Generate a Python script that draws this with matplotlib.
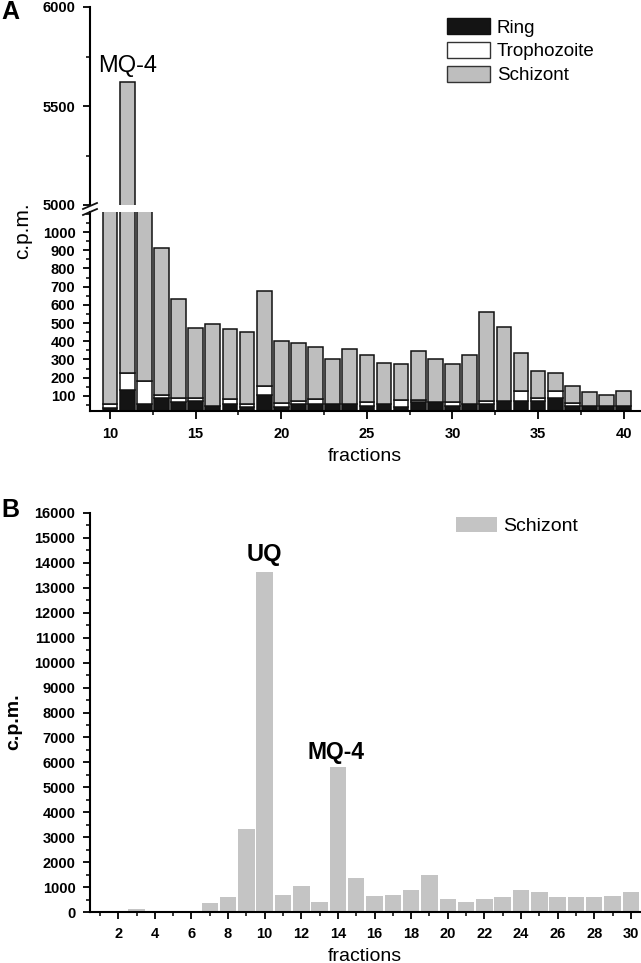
import matplotlib
matplotlib.use('Agg')
import matplotlib.pyplot as plt
from matplotlib.ticker import MultipleLocator, FixedLocator
from matplotlib.patches import Patch
import numpy as np

plt.rcParams['font.family'] = ['Liberation Sans', 'DejaVu Sans']

# panel A: fractions 10-40, stacked by parasite stage (c.p.m.)
fracA = list(range(10, 41))
ring = [35, 131, 54, 86, 64, 73, 45, 54, 38, 107, 38, 53, 53, 54, 54, 45,
        54, 38, 64, 64, 45, 54, 54, 71, 71, 73, 86, 45, 45, 45, 45]
troph = [20, 92, 130, 21, 22, 13, 0, 30, 15, 48, 24, 18, 31, 0, 0, 19,
         0, 37, 12, 0, 19, 0, 17, 0, 58, 13, 43, 17, 0, 0, 0]
totalA = [1500, 5620, 1500, 912, 631, 475, 497, 466, 451, 674, 404, 389, 367,
          300, 360, 323, 283, 276, 345, 305, 276, 323, 559, 477, 336, 237,
          223, 153, 124, 107, 129]
schiz = [t - r - p for t, r, p in zip(totalA, ring, troph)]

# panel B: fractions 1-30, schizont only
fracB = list(range(1, 31))
schizB = [60, 60, 133, 60, 60, 50, 360, 600, 3340, 13650, 694, 1028, 400,
          5800, 1362, 627, 694, 868, 1469, 521, 401, 521, 588, 868, 802,
          588, 588, 588, 627, 802]

W, H = 641, 963
fig = plt.figure(figsize=(W / 100, H / 100), dpi=100)

def box(x0, x1, ytop, ybot):
    return [x0 / W, 1 - ybot / H, (x1 - x0) / W, (ybot - ytop) / H]

axU = fig.add_axes(box(90, 640, 7, 205))
axL = fig.add_axes(box(90, 640, 212, 411))
axB = fig.add_axes(box(90, 640, 513, 912))

ringC = '#141414'
schC = '#bebebe'
for ax in (axU, axL):
    ax.bar(fracA, ring, width=0.86, color=ringC, edgecolor='#111111', linewidth=1.1)
    ax.bar(fracA, troph, width=0.86, bottom=ring, color='white',
           edgecolor='#111111', linewidth=1.1)
    ax.bar(fracA, schiz, width=0.86, bottom=np.add(ring, troph), color=schC,
           edgecolor='#111111', linewidth=1.1)
    ax.set_xlim(8.83, 40.95)
    for s in ['top', 'right']:
        ax.spines[s].set_visible(False)
    ax.spines['left'].set_linewidth(1.5)
    ax.spines['bottom'].set_linewidth(1.5)
    ax.tick_params(which='major', length=5, width=1.3, labelsize=10.5, pad=5.5)
    ax.tick_params(which='minor', length=3, width=1.1)

axU.set_ylim(5000, 6000)
axU.spines['bottom'].set_visible(False)
axU.set_xticks([])
axU.yaxis.set_major_locator(FixedLocator([5000, 5500, 6000]))
axU.yaxis.set_minor_locator(FixedLocator([5250, 5750]))
axU.set_yticklabels(['5000', '5500', '6000'], fontweight='bold')

axL.set_ylim(17, 1110)
axL.yaxis.set_major_locator(FixedLocator(list(range(100, 1001, 100))))
axL.yaxis.set_minor_locator(MultipleLocator(50))
axL.set_yticklabels([str(v) for v in range(100, 1001, 100)], fontweight='bold')
axL.xaxis.set_major_locator(MultipleLocator(5))
axL.xaxis.set_minor_locator(FixedLocator(np.arange(12.5, 40, 5)))
axL.tick_params(axis='x', which='major', length=6)
for lab in axL.get_xticklabels():
    lab.set_fontweight('bold')

# break marks on the left spine
for y in (206, 212):
    fig.add_artist(plt.Line2D([83 / W, 97 / W], [1 - (y + 3) / H, 1 - (y - 3) / H],
                              color='#111111', linewidth=1.3))

axU.text(11, 5645, 'MQ-4', ha='center', va='bottom', fontsize=17)

axU.legend(handles=[Patch(facecolor=ringC, edgecolor='#111111', label='Ring'),
                    Patch(facecolor='white', edgecolor='#333333', label='Trophozoite'),
                    Patch(facecolor=schC, edgecolor='#333333', label='Schizont')],
           loc='upper left', bbox_to_anchor=(447 / W, 1 - 18 / H),
           bbox_transform=fig.transFigure, frameon=False, fontsize=13.5,
           handlelength=2.3, handleheight=0.95, handletextpad=0.35,
           labelspacing=0.28, borderpad=0, borderaxespad=0)

# panel B
axB.bar(fracB, schizB, width=0.9, color='#c4c4c4', label='Schizont')
axB.set_xlim(0.46, 30.5)
axB.set_ylim(0, 16000)
for s in ['top', 'right']:
    axB.spines[s].set_visible(False)
axB.spines['left'].set_linewidth(1.5)
axB.spines['bottom'].set_linewidth(1.5)
axB.xaxis.set_major_locator(MultipleLocator(2))
axB.xaxis.set_minor_locator(MultipleLocator(1))
axB.yaxis.set_major_locator(MultipleLocator(1000))
axB.yaxis.set_minor_locator(MultipleLocator(500))
axB.tick_params(which='major', length=5, width=1.3, labelsize=10.5, pad=5.5)
axB.tick_params(which='minor', length=3, width=1.1)
for lab in axB.get_xticklabels() + axB.get_yticklabels():
    lab.set_fontweight('bold')
axB.text(10, 14330, 'UQ', ha='center', va='center', fontsize=17, fontweight='bold')
axB.text(13.9, 6400, 'MQ-4', ha='center', va='center', fontsize=16.5, fontweight='bold')
axB.legend(loc='upper left', bbox_to_anchor=(456 / W, 1 - 517 / H),
           bbox_transform=fig.transFigure, frameon=False, fontsize=14,
           handlelength=2.1, handleheight=0.8, handletextpad=0.3,
           borderpad=0, borderaxespad=0)

fig.text(365 / W, 1 - 456 / H, 'fractions', ha='center', va='center', fontsize=14)
fig.text(365 / W, 1 - 956 / H, 'fractions', ha='center', va='center', fontsize=14)
fig.text(23 / W, 1 - 231 / H, 'c.p.m.', ha='center', va='center', fontsize=15, rotation=90)
fig.text(14 / W, 1 - 722 / H, 'c.p.m.', ha='center', va='center', fontsize=14,
         rotation=90, fontweight='bold')
fig.text(10 / W, 1 - 12 / H, 'A', ha='center', va='center', fontsize=18, fontweight='bold')
fig.text(10 / W, 1 - 510 / H, 'B', ha='center', va='center', fontsize=18, fontweight='bold')

fig.savefig('out.png', dpi=100)
